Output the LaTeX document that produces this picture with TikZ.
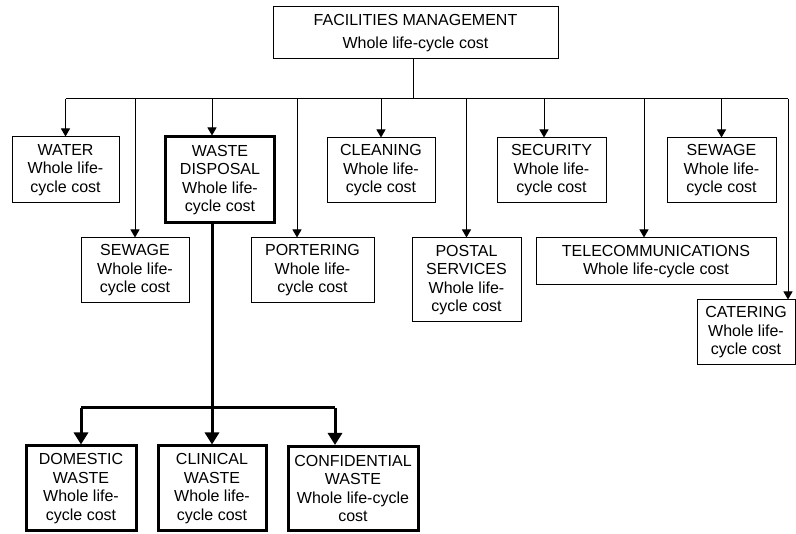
\documentclass[tikz,border=0pt]{standalone}
\usepackage{fontspec}
\setmainfont{Liberation Sans}
\usetikzlibrary{arrows.meta}
\begin{document}
\begin{tikzpicture}[x=1pt,y=-1pt,
  box/.style={draw, line width=1pt, inner sep=0pt, align=center,
    font=\fontsize{16}{18.5}\selectfont},
  thickbox/.style={box, line width=3pt},
  thin/.style={line width=1pt},
  thinarrow/.style={line width=1pt, -{Triangle[length=8pt,width=9pt]}},
  thickarrow/.style={line width=3pt, -{Triangle[length=12pt,width=14pt]}}]
\useasboundingbox (0,0) rectangle (796,534);
% boxes
\node[box, minimum width=285pt, minimum height=52pt] (fm) at (415.5,33)
  {FACILITIES MANAGEMENT\\[4.5pt]Whole life-cycle cost};
\node[box, minimum width=107pt, minimum height=66pt] (water) at (65.5,170)
  {WATER\\Whole life-\\cycle cost};
\node[thickbox, minimum width=109pt, minimum height=86pt] (waste) at (220,180)
  {WASTE\\DISPOSAL\\Whole life-\\cycle cost};
\node[box, minimum width=108pt, minimum height=65pt] (cleaning) at (381,170.5)
  {CLEANING\\Whole life-\\cycle cost};
\node[box, minimum width=109pt, minimum height=65pt] (security) at (551.5,170.5)
  {SECURITY\\Whole life-\\cycle cost};
\node[box, minimum width=109pt, minimum height=65pt] (sewageR) at (721.5,170.5)
  {SEWAGE\\Whole life-\\cycle cost};
\node[box, minimum width=108pt, minimum height=65pt] (sewageL) at (135,270.5)
  {SEWAGE\\Whole life-\\cycle cost};
\node[box, minimum width=123pt, minimum height=65pt] (portering) at (312.5,270.5)
  {PORTERING\\Whole life-\\cycle cost};
\node[box, minimum width=109pt, minimum height=84pt] (postal) at (466.5,280)
  {POSTAL\\SERVICES\\Whole life-\\cycle cost};
\node[box, minimum width=240pt, minimum height=47pt] (telecom) at (656,261.5)
  {TELECOMMUNICATIONS\\Whole life-cycle cost};
\node[box, minimum width=98pt, minimum height=65pt] (catering) at (746,332.5)
  {CATERING\\Whole life-\\cycle cost};
\node[thickbox, minimum width=110pt, minimum height=85pt] (domestic) at (81,488.5)
  {DOMESTIC\\WASTE\\Whole life-\\cycle cost};
\node[thickbox, minimum width=108pt, minimum height=85pt] (clinical) at (212,488.5)
  {CLINICAL\\WASTE\\Whole life-\\cycle cost};
\node[thickbox, minimum width=130pt, minimum height=84pt] (confidential) at (353,488.5)
  {CONFIDENTIAL\\WASTE\\Whole life-cycle\\cost};
% top bus
\coordinate (stem) at (413,59);
\coordinate (busL) at (65.5,99);
\coordinate (busR) at (788,99);
\coordinate (dWater) at (65.5,99);
\coordinate (dSewL) at (135,99);
\coordinate (dWaste) at (212,99);
\coordinate (dPort) at (297,99);
\coordinate (dClean) at (381,99);
\coordinate (dPostal) at (466.5,99);
\coordinate (dSec) at (544,99);
\coordinate (dTel) at (644,99);
\coordinate (dSewR) at (721.5,99);
\coordinate (dCat) at (788,99);
\draw[thin] (fm.south -| stem) -- (stem |- busL);
\draw[thin] (busL) -- (busR);
\draw[thinarrow] (dWater) -- (water.north -| dWater);
\draw[thinarrow] (dSewL) -- (sewageL.north -| dSewL);
\draw[thinarrow] (dWaste) -- (waste.north -| dWaste);
\draw[thinarrow] (dPort) -- (portering.north -| dPort);
\draw[thinarrow] (dClean) -- (cleaning.north -| dClean);
\draw[thinarrow] (dPostal) -- (postal.north -| dPostal);
\draw[thinarrow] (dSec) -- (security.north -| dSec);
\draw[thinarrow] (dTel) -- (telecom.north -| dTel);
\draw[thinarrow] (dSewR) -- (sewageR.north -| dSewR);
\draw[thinarrow] (dCat) -- (catering.north -| dCat);
% bottom bus
\coordinate (wStem) at (212,223);
\coordinate (bus2L) at (81,408);
\coordinate (bus2R) at (335,408);
\coordinate (bDom) at (81,408);
\coordinate (bCli) at (212,408);
\coordinate (bConf) at (335,408);
\draw[line width=3pt] (waste.south -| wStem) -- (bCli);
\draw[line width=3pt] (bus2L) -- (bus2R);
\draw[thickarrow] (bDom) -- (domestic.north -| bDom);
\draw[thickarrow] (bCli) -- (clinical.north -| bCli);
\draw[thickarrow] (bConf) -- (confidential.north -| bConf);
\end{tikzpicture}
\end{document}
